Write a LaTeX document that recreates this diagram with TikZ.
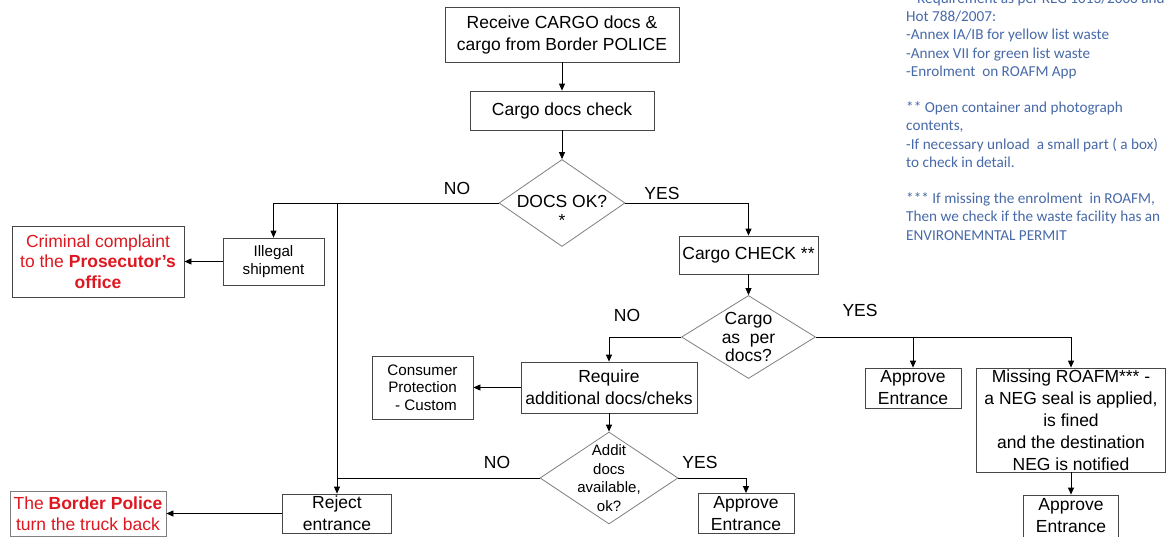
\documentclass[tikz,border=0pt]{standalone}
\usepackage{fontspec}
\setmainfont{Liberation Sans}
\newfontfamily\notefont{Carlito}
\usetikzlibrary{shapes.geometric,arrows.meta}
\definecolor{alertred}{RGB}{222,24,32}
\definecolor{noteblue}{RGB}{72,106,168}
\definecolor{framegray}{RGB}{70,70,70}
\definecolor{diagray}{RGB}{128,128,128}
\tikzset{
  box/.style={draw=framegray, line width=0.8pt, inner sep=0pt, align=center,
    font=\fontsize{17.5}{22}\selectfont},
  smallbox/.style={box, font=\fontsize{15.2}{17.5}\selectfont},
  redbox/.style={box, text=alertred, font=\fontsize{17.5}{20.5}\selectfont},
  dia/.style={draw=diagray, diamond, line width=0.8pt, inner sep=0pt},
  diatext/.style={inner sep=0pt, align=center, font=\fontsize{17.5}{18.5}\selectfont},
  flow/.style={line width=0.8pt, draw=black},
  arr/.style={flow, -{Triangle[length=7pt,width=6pt]}},
  answer/.style={inner sep=0pt, font=\fontsize{17.5}{20}\selectfont},
}
\begin{document}
\begin{tikzpicture}[x=1pt,y=-1pt]
\useasboundingbox (0,0) rectangle (1170,536);
\clip (0,0) rectangle (1170,536);
\fill[white] (0,0) rectangle (1170,536);

% main path
\node[box, minimum width=234pt, minimum height=55pt] (recv) at (562,34.5)
  {Receive CARGO docs \&\\cargo from Border POLICE};
\node[box, minimum width=184pt, minimum height=39pt] (chk) at (562,110.5)
  {Cargo docs check};
\node[dia, minimum width=126pt, minimum height=87pt] (d1) at (562,203) {};
\node[diatext] (d1t) at (562,211) {DOCS OK?\\*};

\node[box, minimum width=139pt, minimum height=38pt] (cchk) at (748.5,255)
  {Cargo CHECK **};
\node[dia, minimum width=134pt, minimum height=83pt] (d2) at (748.5,337) {};
\node[diatext] (d2t) at (748.5,337) {Cargo\\as~ per\\docs?};

\node[box, minimum width=176pt, minimum height=51pt] (req) at (609,387.5)
  {Require\\additional docs/cheks};
\node[smallbox, minimum width=101pt, minimum height=63pt] (cons) at (422.5,387.5)
  {Consumer\\Protection\\\ \,- Custom};
\node[dia, minimum width=138pt, minimum height=92pt] (d3) at (609,478) {};
\node[diatext, font=\fontsize{15}{18.7}\selectfont] (d3t) at (609,478)
  {Addit\\docs\\available,\\ok?};
\node[box, minimum width=96pt, minimum height=40pt] (app3) at (746,513.5)
  {Approve\\Entrance};

% rejection side
\node[smallbox, minimum width=101pt, minimum height=47pt] (ill) at (273.5,261.5)
  {Illegal\\shipment};
\node[redbox, minimum width=172pt, minimum height=71pt] (crim) at (98,261.5)
  {Criminal complaint\\to the \textbf{Prosecutor's}\\\textbf{office}};
\node[box, minimum width=109pt, minimum height=39pt] (rej) at (337,513.5)
  {Reject\\entrance};
\node[redbox, draw=diagray, minimum width=156pt, minimum height=45pt] (bp) at (88,513.5)
  {The \textbf{Border Police}\\turn the truck back};

% approval side
\node[box, minimum width=96pt, minimum height=40pt] (appY) at (913,388)
  {Approve\\Entrance};
\node[box, minimum width=189pt, minimum height=104pt] (miss) at (1071,420)
  {Missing ROAFM*** -\\a NEG seal is applied,\\is fined\\and the destination\\NEG is notified};
\node[box, minimum width=95pt, minimum height=42pt] (app2) at (1071,516)
  {Approve\\Entrance};

% connectors
\draw[arr] (recv.south) -- (chk.north);
\draw[arr] (chk.south) -- (d1.north);
\draw[arr] (d1.east) -| (cchk.north);
\draw[arr] (d1.west) -| (ill.north);
\draw[arr] (d1.west -| rej.north) -- (rej.north);
\draw[arr] (cchk.south) -- (d2.north);
\draw[arr] (d2.west) -| (req.north);
\draw[arr] (req.west) -- (cons.east);
\draw[arr] (req.south) -- (d3.north);
\draw[arr] (d3.east) -| (app3.north);
\draw[flow] (d3.west) -- (d3.west -| rej.north);
\draw[arr] (rej.west) -- (bp.east);
\draw[arr] (ill.west) -- (crim.east);
\draw[flow] (d2.east) -- (d2.east -| miss.north);
\draw[arr] (d2.east -| appY.north) -- (appY.north);
\draw[arr] (d2.east -| miss.north) -- (miss.north);
\draw[arr] (miss.south) -- (app2.north);

% branch answers
\node[answer] (no1) at (457,188) {NO};
\node[answer] (yes1) at (662,193) {YES};
\node[answer] (no2) at (627,315) {NO};
\node[answer] (yes2) at (860,310) {YES};
\node[answer] (no3) at (497,462) {NO};
\node[answer] (yes3) at (700,462) {YES};

% footnotes
\node[anchor=north west, inner sep=0pt, align=left, text=noteblue,
  font=\notefont\fontsize{15.2}{18.2}\selectfont] (notes) at (906,-7.5)
  {* Requirement as per REG 1013/2006 and\\
   Hot 788/2007:\\
   -Annex IA/IB for yellow list waste\\
   -Annex VII for green list waste\\
   -Enrolment\ \ on ROAFM App\\[18.2pt]
   ** Open container and photograph\\
   contents,\\
   -If necessary unload\ \ a small part ( a box)\\
   to check in detail.\\[18.2pt]
   *** If missing the enrolment\ \ in ROAFM,\\
   Then we check if the waste facility has an\\
   ENVIRONEMNTAL PERMIT};
\end{tikzpicture}
\end{document}
